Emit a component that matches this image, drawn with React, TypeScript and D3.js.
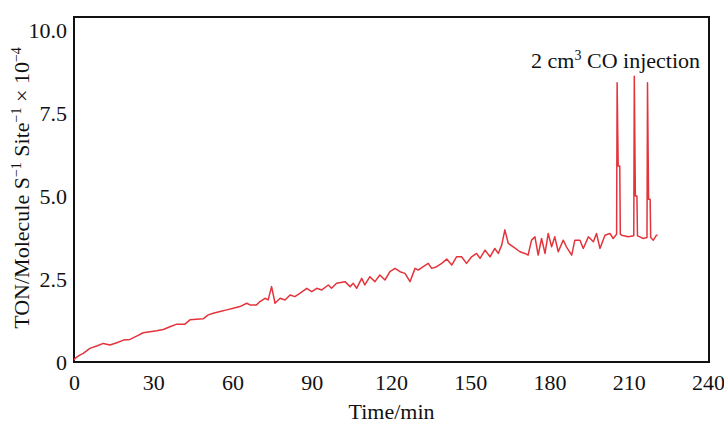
import { useRef, useEffect } from "react";
import * as d3 from "d3";

// TON trace (minutes, TON x 10^-4)
const minutes = [
  0, 0.4, 2, 3.5, 6, 8.6, 11.1, 13.6, 16.2, 18.7, 21.2, 23.7, 26.2, 28.8, 31.3,
  33.8, 36.3, 38.9, 42, 43.9, 46.4, 48.9, 50.8, 52.7, 55.3, 57.8, 60.3, 62.8,
  65.4, 66.6, 69.1, 70.4, 72.3, 73.5, 74.8, 76.1, 78, 79.9, 81.8, 83.6, 85.5,
  88.1, 90, 91.9, 93.8, 96.3, 97.5, 99.4, 102.6, 104.5, 105.7, 107, 108.9,
  110.1, 112, 113.9, 115.8, 117.7, 119.6, 121.5, 123.4, 125.3, 127.2, 129.1,
  130.3, 132.2, 134.1, 135.4, 137.3, 139.2, 141.1, 143, 144.8, 146.7, 148.6,
  150.5, 152.4, 153.7, 155.6, 157.5, 159.3, 160.6, 161.9, 163.1, 164.4, 166.3,
  168.8, 170.7, 171.9, 173.2, 174.5, 175.7, 177, 178.3, 179.5, 180.8, 182,
  183.3, 185.2, 186.4, 188.4, 189.6, 191.5, 192.8, 194.7, 196.6, 197.8, 199.1,
  201, 202.9, 204.1, 205.4, 205.6, 206.0, 206.6, 206.8, 207.3, 209.8, 211.9,
  212.1, 212.5, 213.1, 213.3, 214.2, 215.5, 216.9, 217.1, 217.5, 218.1, 218.3,
  219.3, 220.5, 220.9,
];
const ton = [
  0.06, 0.11, 0.2, 0.26, 0.41, 0.48, 0.56, 0.51, 0.58, 0.66, 0.68, 0.78, 0.88,
  0.91, 0.94, 0.98, 1.06, 1.14, 1.14, 1.27, 1.29, 1.3, 1.42, 1.47, 1.52, 1.57,
  1.62, 1.67, 1.77, 1.72, 1.72, 1.82, 1.92, 1.87, 2.27, 1.77, 1.92, 1.87, 2.02,
  1.97, 2.07, 2.22, 2.12, 2.22, 2.17, 2.32, 2.22, 2.37, 2.42, 2.27, 2.37, 2.22,
  2.52, 2.32, 2.57, 2.42, 2.62, 2.47, 2.72, 2.82, 2.72, 2.67, 2.42, 2.82, 2.77,
  2.87, 2.97, 2.82, 2.87, 2.97, 3.1, 2.92, 3.17, 3.17, 2.97, 3.17, 3.27, 3.12,
  3.37, 3.17, 3.42, 3.27, 3.52, 3.98, 3.57, 3.47, 3.32, 3.27, 3.22, 3.67, 3.77,
  3.22, 3.72, 3.27, 3.87, 3.47, 3.77, 3.32, 3.67, 3.47, 3.22, 3.67, 3.67, 3.42,
  3.77, 3.62, 3.87, 3.42, 3.82, 3.87, 3.72, 3.85, 8.41, 5.9, 5.9, 3.85, 3.82,
  3.77, 3.8, 8.61, 5.0, 5.0, 3.8, 3.77, 3.72, 3.75, 8.41, 4.9, 4.9, 3.75, 3.67,
  3.82, 3.82,
];

const xTicks = [0, 30, 60, 90, 120, 150, 180, 210, 240];
const yTicks = [0, 2.5, 5, 7.5, 10];

function App() {
  const svgRef = useRef<SVGSVGElement>(null);

  useEffect(() => {
    const w = 724;
    const h = 426;
    const left = 74;
    const right = 709;
    const top = 17;
    const bottom = 362;
    const font = "'Liberation Serif', 'Times New Roman', serif";
    const fs = "22px";
    const sup = "14px";

    const svg = d3.select(svgRef.current).attr("width", w).attr("height", h);
    svg.selectAll("*").remove();

    const x = d3.scaleLinear().domain([0, 240]).range([left, right - 1]);
    const y = d3.scaleLinear().domain([0, 10]).range([bottom, 30]);

    // frame
    svg
      .append("rect")
      .attr("x", left)
      .attr("y", top)
      .attr("width", right - left)
      .attr("height", bottom - top)
      .attr("fill", "none")
      .attr("stroke", "#111")
      .attr("stroke-width", 2);

    // axes (labels only)
    const xAxis = svg
      .append("g")
      .attr("transform", `translate(0,${bottom})`)
      .call(d3.axisBottom(x).tickValues(xTicks).tickSize(0).tickPadding(12));
    const yAxis = svg
      .append("g")
      .attr("transform", `translate(${left},0)`)
      .call(
        d3
          .axisLeft(y)
          .tickValues(yTicks)
          .tickSize(0)
          .tickPadding(7)
          .tickFormat((d) => (d === 0 ? "0" : d3.format(".1f")(d as number)))
      );
    [xAxis, yAxis].forEach((g) => {
      g.select(".domain").remove();
      g.selectAll("text")
        .style("font-family", font)
        .style("font-size", fs)
        .attr("fill", "#111");
    });

    // trace
    const pts: [number, number][] = minutes.map((t, i) => [t, ton[i]]);
    const line = d3
      .line<[number, number]>()
      .x((d) => x(d[0]))
      .y((d) => y(d[1]));
    svg
      .append("path")
      .datum(pts)
      .attr("d", line)
      .attr("fill", "none")
      .attr("stroke", "#e3343c")
      .attr("stroke-width", 1.5)
      .attr("stroke-linejoin", "round");

    // axis titles
    svg
      .append("text")
      .attr("x", (left + right) / 2)
      .attr("y", 419)
      .attr("text-anchor", "middle")
      .style("font-family", font)
      .style("font-size", fs)
      .attr("fill", "#111")
      .text("Time/min");

    const yl = svg
      .append("text")
      .attr("transform", `translate(29,188) rotate(-90)`)
      .attr("text-anchor", "middle")
      .style("font-family", font)
      .style("font-size", fs)
      .attr("fill", "#111");
    yl.append("tspan").text("TON/Molecule S");
    yl.append("tspan").attr("dy", -8).style("font-size", sup).text("−1");
    yl.append("tspan").attr("dy", 8).text(" Site");
    yl.append("tspan").attr("dy", -8).style("font-size", sup).text("−1");
    yl.append("tspan").attr("dy", 8).text(" × 10");
    yl.append("tspan").attr("dy", -8).style("font-size", sup).text("−4");

    // annotation
    const ann = svg
      .append("text")
      .attr("x", 700)
      .attr("y", 68)
      .attr("text-anchor", "end")
      .style("font-family", font)
      .style("font-size", fs)
      .attr("fill", "#111");
    ann.append("tspan").text("2 cm");
    ann.append("tspan").attr("dy", -8).style("font-size", sup).text("3");
    ann.append("tspan").attr("dy", 8).text(" CO injection");
  }, []);

  return (
    <svg
      ref={svgRef}
      style={{ position: "absolute", left: 0, top: 0, background: "#fff" }}
    ></svg>
  );
}

export default App;
